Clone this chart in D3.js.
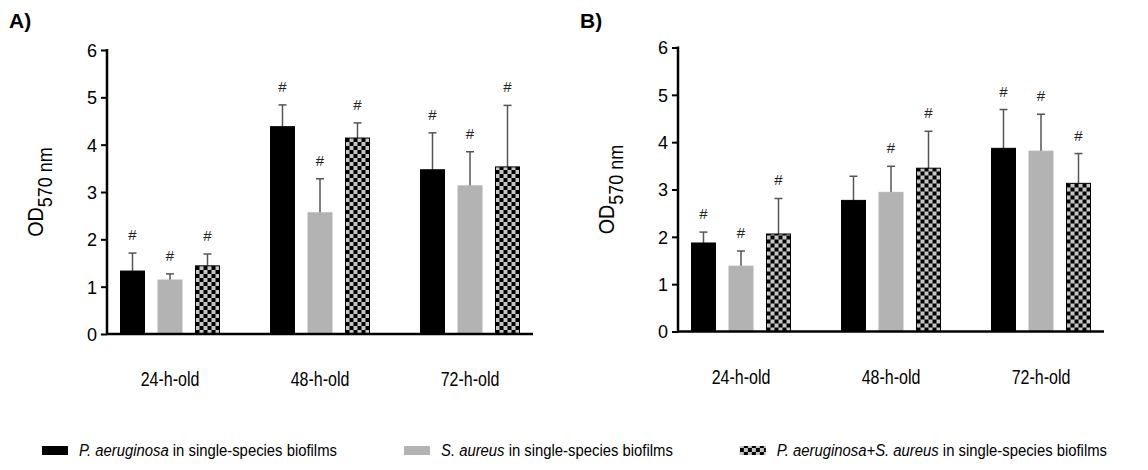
<!DOCTYPE html>
<html>
<head>
<meta charset="utf-8">
<title>Biofilm OD570</title>
<script src="https://d3js.org/d3.v7.min.js"></script>
<style>
    body { margin: 0; background: #fff; }
    text { font-family: "Liberation Sans", Arial, sans-serif; }
</style>
</head>
<body>
<script>
var groups = ["24-h-old", "48-h-old", "72-h-old"];
var seriesKeys = ["pa", "sa", "mix"];

// panel A: mean and upper SD for each group, order pa, sa, mix
var meanA = [[1.33, 1.14, 1.44], [4.38, 2.56, 4.14], [3.47, 3.13, 3.53]];
var sdA   = [[0.38, 0.13, 0.25], [0.46, 0.72, 0.32], [0.78, 0.72, 1.30]];
var sigA  = [[1, 1, 1], [1, 1, 1], [1, 1, 1]];

// panel B
var meanB = [[1.87, 1.38, 2.06], [2.77, 2.94, 3.45], [3.87, 3.81, 3.13]];
var sdB   = [[0.23, 0.32, 0.75], [0.51, 0.55, 0.78], [0.82, 0.78, 0.63]];
var sigB  = [[1, 1, 1], [0, 1, 1], [1, 1, 1]];

var yTicks = [0, 1, 2, 3, 4, 5, 6];

var width = 1148, height = 470;

var svg = d3.select("body").append("svg")
    .attr("width", width)
    .attr("height", height);

// checker pattern for the mixed bars
var defs = svg.append("defs");
var pat = defs.append("pattern")
    .attr("id", "checker")
    .attr("patternUnits", "userSpaceOnUse")
    .attr("width", 8).attr("height", 8);
pat.append("rect").attr("width", 8).attr("height", 8).attr("fill", "#c6c6c6");
pat.append("rect").attr("width", 4).attr("height", 4).attr("fill", "#000");
pat.append("rect").attr("x", 4).attr("y", 4).attr("width", 4).attr("height", 4).attr("fill", "#000");

function fillFor(k) {
    if (k == "pa") return "#000";
    if (k == "sa") return "#b3b3b3";
    return "url(#checker)";
}

// the original uses a condensed face, squeeze the text horizontally
function condensed(sel, x, y, sx) {
    sel.attr("transform", "translate(" + x + "," + y + ") scale(" + sx + ",1)");
}

function drawPanel(left, top, label, means, sds, sigs) {
    var plotW = 426, plotH = 284;
    var g = svg.append("g").attr("transform", "translate(" + left + "," + top + ")");

    var x0 = d3.scaleBand().domain(groups).range([0, plotW]).paddingInner(0.2).paddingOuter(0.02);
    var x1 = d3.scaleBand().domain(seriesKeys).range([0, x0.bandwidth()]).paddingInner(0.36).paddingOuter(0.28);
    var y = d3.scaleLinear().domain([0, 6]).range([plotH, 0]);

    var rows = [];
    groups.forEach(function(gr, i) {
        seriesKeys.forEach(function(k, j) {
            rows.push({group: gr, key: k, mean: means[i][j], sd: sds[i][j], sig: sigs[i][j]});
        });
    });

    var bars = g.selectAll(".bar").data(rows).enter().append("g")
        .attr("transform", function(d) { return "translate(" + (x0(d.group) + x1(d.key)) + ",0)"; });

    // error bars (upper only)
    bars.append("line")
        .attr("x1", x1.bandwidth() / 2).attr("x2", x1.bandwidth() / 2)
        .attr("y1", function(d) { return y(d.mean); })
        .attr("y2", function(d) { return y(d.mean + d.sd); })
        .attr("stroke", "#555").attr("stroke-width", 1.5);
    bars.append("line")
        .attr("x1", x1.bandwidth() / 2 - 4).attr("x2", x1.bandwidth() / 2 + 4)
        .attr("y1", function(d) { return y(d.mean + d.sd); })
        .attr("y2", function(d) { return y(d.mean + d.sd); })
        .attr("stroke", "#555").attr("stroke-width", 1.5);

    bars.append("rect")
        .attr("y", function(d) { return y(d.mean); })
        .attr("width", x1.bandwidth())
        .attr("height", function(d) { return plotH - y(d.mean); })
        .attr("fill", function(d) { return fillFor(d.key); })
        .attr("stroke", function(d) { return d.key == "sa" ? "#b3b3b3" : "#000"; })
        .attr("stroke-width", 1);

    bars.filter(function(d) { return d.sig; }).append("text")
        .attr("x", x1.bandwidth() / 2)
        .attr("y", function(d) { return y(d.mean + d.sd) - 13; })
        .attr("text-anchor", "middle")
        .attr("font-size", 15)
        .attr("fill", "#222")
        .text("#");

    // y axis
    var yAxis = d3.axisLeft(y).tickValues(yTicks).tickSize(6).tickPadding(4).tickFormat(d3.format("d"));
    var ya = g.append("g").call(yAxis);
    ya.select(".domain").remove();
    ya.selectAll(".tick line").attr("stroke", "#000").attr("stroke-width", 2);
    ya.selectAll(".tick text").attr("font-size", 18).attr("fill", "#000")
        .attr("dy", "0.36em")
        .style("font-family", "'Liberation Sans', Arial, sans-serif");
    g.append("line").attr("x1", 0).attr("x2", 0).attr("y1", -1).attr("y2", plotH + 1)
        .attr("stroke", "#000").attr("stroke-width", 2.5);

    // x axis line and group labels
    g.append("line").attr("x1", 0).attr("x2", plotW).attr("y1", plotH).attr("y2", plotH)
        .attr("stroke", "#000").attr("stroke-width", 2.5);
    g.selectAll(".glab").data(groups).enter().append("text")
        .attr("text-anchor", "middle")
        .attr("font-size", 20)
        .each(function(d) {
            condensed(d3.select(this), x0(d) + x0.bandwidth() / 2, plotH + 52, 0.8);
        })
        .text(function(d) { return d; });

    // y title
    var yt = g.append("text")
        .attr("text-anchor", "middle")
        .attr("font-size", 22);
    yt.attr("transform", "translate(-64," + (plotH / 2) + ") rotate(-90) scale(0.9,1)");
    yt.append("tspan").text("OD");
    yt.append("tspan").attr("dy", 9).attr("font-size", 20).text("570 nm");

    svg.append("text")
        .attr("x", left - 98).attr("y", 28)
        .attr("font-size", 21).attr("font-weight", "bold")
        .text(label);
}

drawPanel(107, 50, "A)", meanA, sdA, sigA);
drawPanel(678, 47.5, "B)", meanB, sdB, sigB);

// legend
var legendItems = [
    {key: "pa", it: "P. aeruginosa", rest: " in single-species biofilms"},
    {key: "sa", it: "S. aureus", rest: " in single-species biofilms"},
    {key: "mix", it: "P. aeruginosa+S. aureus", rest: " in single-species biofilms"}
];
var legStart = 42, legEnd = 1107, legSx = 0.9, swW = 26, swGap = 11;
var lg = svg.append("g");
var items = legendItems.map(function(d) {
    var it = lg.append("g");
    it.append("rect").attr("x", 0).attr("y", -10).attr("width", swW).attr("height", 9)
        .attr("fill", fillFor(d.key));
    var t = it.append("text").attr("font-size", 16.5);
    condensed(t, swW + swGap, 0, legSx);
    t.append("tspan").attr("font-style", "italic").text(d.it);
    t.append("tspan").text(d.rest);
    return {g: it, w: swW + swGap + t.node().getComputedTextLength() * legSx};
});
var used = d3.sum(items, function(d) { return d.w; });
var gap = (legEnd - legStart - used) / (items.length - 1);
var cx = legStart;
items.forEach(function(d) {
    d.g.attr("transform", "translate(" + cx + ",456)");
    cx += d.w + gap;
});
</script>
</body>
</html>
